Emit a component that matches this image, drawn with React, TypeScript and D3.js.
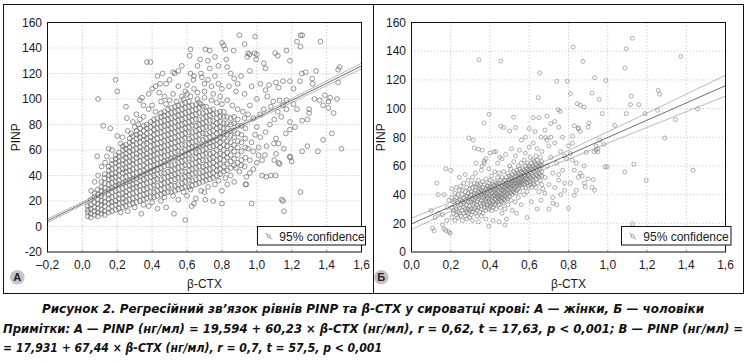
import React from "react";
import * as d3 from "d3";

const xTicksA = [-0.2, 0, 0.2, 0.4, 0.6, 0.8, 1.0, 1.2, 1.4, 1.6];
const yTicksA = [-20, 0, 20, 40, 60, 80, 100, 120, 140, 160];
const xTicksB = [0, 0.2, 0.4, 0.6, 0.8, 1.0, 1.2, 1.4, 1.6];
const yTicksB = [0, 20, 40, 60, 80, 100, 120, 140, 160];

// regression: [intercept, slope]
const regressionA = [17.931, 67.44];
const regressionB = [19.594, 60.23];
// 95% band: [half-width at mean, slope-uncertainty factor, mean x]
const confidenceA = [0.9, 1.8, 0.48];
const confidenceB = [2.5, 6.2, 0.5];

const legendLabel = "95% confidence";
const panelLetters = ["А", "Б"];
const xTitle = "β-CTX";
const yTitle = "PINP";
const captionLines = [
  "Рисунок 2. Регресійний зв’язок рівнів PINP та β-CTX у сироватці крові: А — жінки, Б — чоловіки",
  "Примітки: А — PINP (нг/мл) = 19,594 + 60,23 × β-CTX (нг/мл), r = 0,62, t = 17,63, p < 0,001; В — PINP (нг/мл) =",
  "= 17,931 + 67,44 × β-CTX (нг/мл), r = 0,7, t = 57,5, p < 0,001",
];

// Panel A (women): dense cloud read column by column [x, y values]
const womenDense: [number, number[]][] = [
  [0.031, [8, 11, 13, 16]],
  [0.048, [7, 10, 14, 17, 21]],
  [0.069, [9, 12, 15, 19, 23, 26]],
  [0.088, [8, 11, 14, 18, 21, 25, 29]],
  [0.109, [10, 13, 17, 20, 24, 28, 31, 35]],
  [0.128, [9, 12, 16, 19, 23, 27, 30, 34, 38, 41]],
  [0.151, [11, 14, 18, 22, 25, 29, 33, 37, 40, 44, 47]],
  [0.169, [12, 16, 19, 23, 27, 30, 34, 38, 41, 45, 49, 52]],
  [0.191, [13, 17, 20, 24, 28, 32, 35, 39, 42, 46, 50, 53, 56]],
  [0.209, [14, 18, 22, 25, 29, 33, 36, 40, 44, 48, 51, 55, 58]],
  [0.232, [15, 19, 22, 26, 30, 34, 38, 42, 45, 49, 52, 56, 60, 63]],
  [0.249, [16, 20, 24, 27, 31, 35, 39, 43, 46, 50, 54, 57, 61, 64]],
  [0.271, [17, 21, 25, 29, 32, 36, 40, 44, 47, 51, 55, 59, 62, 66, 69]],
  [0.289, [18, 22, 26, 30, 33, 37, 41, 45, 49, 52, 56, 60, 64, 67, 71]],
  [0.311, [19, 23, 27, 31, 34, 38, 42, 46, 50, 54, 57, 61, 65, 69, 72, 75]],
  [0.33, [20, 24, 28, 32, 36, 39, 43, 47, 51, 55, 59, 62, 66, 70, 73, 77]],
  [0.352, [21, 25, 29, 33, 37, 41, 44, 48, 52, 56, 60, 64, 68, 71, 75, 79]],
  [0.369, [22, 26, 30, 34, 38, 42, 46, 50, 54, 57, 61, 65, 69, 73, 77, 80]],
  [0.391, [23, 27, 31, 35, 39, 43, 47, 51, 55, 59, 63, 67, 70, 74, 78, 82]],
  [0.41, [23, 27, 32, 36, 40, 44, 48, 52, 56, 60, 64, 68, 72, 76, 80, 84]],
  [0.429, [24, 28, 32, 37, 41, 45, 49, 53, 57, 61, 65, 69, 73, 77, 81, 85]],
  [0.451, [25, 29, 33, 37, 42, 46, 50, 54, 58, 62, 66, 70, 74, 78, 82, 86, 89]],
  [0.469, [26, 30, 34, 38, 42, 47, 51, 55, 59, 63, 67, 71, 75, 79, 83, 87, 90]],
  [0.491, [27, 31, 35, 39, 43, 48, 52, 56, 60, 64, 68, 72, 76, 80, 84, 88, 92]],
  [0.509, [27, 32, 36, 40, 44, 48, 53, 57, 61, 65, 69, 73, 77, 81, 85, 89, 93]],
  [0.531, [28, 32, 37, 41, 45, 49, 54, 58, 62, 66, 70, 74, 78, 82, 86, 90, 94]],
  [0.549, [29, 33, 38, 42, 46, 50, 54, 59, 63, 67, 71, 75, 79, 83, 87, 91, 95]],
  [0.571, [30, 34, 38, 43, 47, 51, 55, 59, 64, 68, 72, 76, 80, 84, 88, 92, 96]],
  [0.589, [31, 35, 39, 43, 48, 52, 56, 60, 64, 69, 73, 77, 81, 85, 89, 93, 97]],
  [0.611, [31, 36, 40, 44, 48, 53, 57, 61, 65, 69, 74, 78, 82, 86, 90, 94, 98]],
  [0.629, [32, 36, 41, 45, 49, 53, 58, 62, 66, 70, 74, 79, 83, 87, 91, 95]],
  [0.651, [33, 37, 42, 46, 50, 54, 58, 63, 67, 71, 75, 79, 84, 88, 92, 96]],
  [0.669, [34, 38, 42, 47, 51, 55, 59, 63, 68, 72, 76, 80, 84, 89, 93, 97]],
  [0.691, [35, 39, 43, 47, 52, 56, 60, 64, 68, 73, 77, 81, 85, 89, 94]],
  [0.709, [36, 40, 44, 48, 52, 57, 61, 65, 69, 73, 78, 82, 86, 90, 94]],
  [0.731, [37, 41, 45, 49, 53, 57, 62, 66, 70, 74, 78, 83, 87, 91]],
  [0.749, [38, 42, 46, 50, 54, 58, 63, 67, 71, 75, 79, 83, 88, 92]],
  [0.771, [40, 44, 48, 52, 56, 60, 64, 68, 73, 77, 81, 85, 89]],
  [0.789, [41, 45, 49, 53, 57, 62, 66, 70, 74, 78, 82, 86, 90]],
  [0.811, [43, 47, 52, 56, 60, 64, 69, 73, 77, 81, 86, 90]],
  [0.829, [44, 49, 54, 58, 63, 67, 72, 77, 81, 86]],
  [0.851, [46, 51, 56, 61, 66, 71, 75, 80, 85]],
  [0.869, [48, 53, 59, 64, 70, 75, 81, 86]],
  [0.891, [50, 56, 62, 67, 73, 79, 84]],
  [0.912, [52, 59, 66, 72, 79]],
  [0.934, [54, 62, 69, 77]],
];

// Panel A: fringe and outlying points [x, y]
const womenScatter: [number, number][] = [
  [0.09, 100], [0.19, 115], [0.2, 106], [0.25, 94], [0.255, 85], [0.2, 71], [0.16, 77], [0.12, 79],
  [0.085, 55], [0.15, 61], [0.11, 47], [0.13, 50], [0.07, 35], [0.17, 60], [0.23, 70], [0.28, 73],
  [0.3, 78], [0.22, 65], [0.05, 28], [0.09, 40], [0.14, 55], [0.26, 75], [0.29, 82], [0.32, 80],
  [0.37, 129], [0.39, 129], [0.46, 120], [0.52, 121], [0.57, 126], [0.615, 134], [0.62, 139],
  [0.705, 139], [0.73, 138], [0.675, 131], [0.8, 144], [0.81, 142], [0.82, 139], [0.9, 150],
  [0.99, 149], [0.93, 143], [0.95, 136], [1.0, 135], [0.945, 133], [1.105, 136], [1.12, 134],
  [1.17, 138], [1.19, 130], [1.25, 150], [1.26, 150], [1.23, 145], [1.25, 141], [1.365, 145],
  [1.475, 125], [1.466, 123], [0.62, 120], [0.636, 115], [0.68, 120], [0.685, 117], [0.53, 120],
  [0.55, 122], [0.445, 112], [0.48, 112], [0.38, 104], [0.4, 108], [0.42, 110], [0.44, 105],
  [0.342, 101], [0.38, 92], [0.57, 102], [0.59, 106], [0.6, 104], [0.64, 108], [0.66, 105],
  [0.7, 112], [0.72, 115], [0.74, 110], [0.76, 118], [0.78, 112], [0.825, 131], [0.867, 138],
  [0.83, 125], [0.85, 120], [0.87, 116], [0.89, 112], [0.91, 118], [0.96, 122], [0.958, 135],
  [0.987, 136], [0.996, 131], [1.05, 124], [1.04, 128], [1.02, 112], [0.97, 110], [0.93, 104],
  [0.88, 106], [0.84, 110], [0.8, 108], [0.31, 88], [0.33, 84], [0.35, 95], [0.45, 98],
  [0.47, 102], [0.5, 99], [0.52, 104], [0.55, 110], [0.5, 115], [0.43, 118], [0.35, 86],
  [0.33, 99], [0.4, 95], [0.42, 90], [0.48, 96], [0.54, 98], [0.58, 100], [0.62, 102],
  [0.66, 100], [0.7, 101], [0.74, 99], [0.77, 97], [0.8, 96], [0.83, 99], [0.86, 95],
  [0.89, 92], [0.92, 90], [0.95, 88], [0.7, 106], [0.75, 104], [0.79, 102], [0.68, 96],
  [0.6, 111], [0.64, 118], [0.73, 124], [0.78, 126], [0.66, 126], [0.72, 130], [0.76, 133],
  [1.485, 61], [1.38, 68], [1.43, 73], [1.35, 59], [1.26, 59], [1.29, 63], [1.25, 27], [1.15, 20],
  [1.155, 12], [0.97, 18], [0.8, 18], [0.8, 28], [0.59, 5], [0.525, 10], [0.626, 16], [0.705, 21],
  [0.75, 20], [0.94, 33], [0.94, 39], [1.055, 39], [1.107, 40], [1.0, 50], [1.03, 52], [1.125, 50],
  [1.2, 51], [1.19, 55], [1.155, 61], [1.098, 65], [1.11, 69], [1.166, 73], [1.19, 76], [1.218, 78],
  [1.26, 83], [1.29, 84], [1.3, 89], [1.3, 92], [1.33, 100], [1.36, 99], [1.39, 103], [1.41, 98],
  [1.42, 101], [1.46, 100], [1.38, 95], [1.41, 93], [1.44, 89], [1.466, 113], [1.32, 112],
  [1.34, 122], [1.317, 116], [1.28, 121], [1.258, 120], [1.247, 114], [1.21, 108], [1.19, 114],
  [1.15, 114], [1.125, 109], [1.11, 113], [1.07, 111], [1.05, 107], [1.094, 98], [1.13, 99],
  [1.17, 99], [1.21, 96], [1.17, 92], [1.23, 92], [1.14, 86], [1.19, 82], [1.1, 84], [1.075, 80],
  [1.05, 74], [1.125, 65], [1.11, 57], [1.056, 63], [1.01, 62], [1.046, 56], [0.98, 59], [1.1, 52],
  [1.13, 49], [1.19, 54], [1.03, 40], [1.08, 40], [0.935, 33], [1.143, 21], [1.02, 70], [1.0, 78],
  [0.98, 85], [1.02, 88], [1.04, 92], [0.96, 95], [1.0, 100], [1.06, 102], [1.08, 94], [1.12, 90],
  [1.15, 95], [0.97, 66], [0.99, 72], [0.96, 52], [0.98, 45], [1.01, 56], [0.95, 61], [0.93, 85],
  [0.338, 10], [0.38, 16], [0.43, 14], [0.4, 19], [0.45, 20], [0.48, 15], [0.55, 21], [0.6, 24],
  [0.64, 18], [0.65, 22], [0.68, 28], [0.72, 31], [0.78, 36], [0.85, 40], [0.9, 43], [0.88, 46],
  [0.82, 38], [0.3, 15], [0.26, 12], [0.52, 24], [0.58, 27], [0.62, 29], [0.7, 27], [0.76, 33],
  [0.83, 33], [0.87, 35], [0.91, 48], [0.93, 47], [0.96, 42], [0.47, 23], [0.35, 17], [0.22, 11],
];

// Panel B (men): main cluster read column by column [x, y values]
const menCluster: [number, number[]][] = [
  [0.205, [24, 31, 38, 44]], [0.214, [27, 35, 29]], [0.221, [22, 33, 41, 36]],
  [0.229, [30, 26, 45, 38]], [0.236, [34, 28, 40, 24]], [0.244, [31, 37, 43, 27, 52]],
  [0.251, [25, 33, 36, 46]], [0.259, [29, 40, 35, 22, 43]], [0.266, [31, 38, 27, 48, 34]],
  [0.274, [36, 42, 25, 30, 54]], [0.281, [28, 33, 39, 45, 23]], [0.289, [35, 41, 30, 27, 50, 37]],
  [0.296, [32, 44, 38, 24, 29]], [0.304, [40, 35, 47, 30, 42, 26]], [0.311, [37, 33, 45, 28, 52, 22]],
  [0.319, [41, 36, 30, 48, 34, 39]], [0.326, [45, 38, 31, 27, 43, 55]], [0.334, [35, 40, 47, 29, 33, 25]],
  [0.341, [42, 37, 31, 46, 39, 50, 21]], [0.349, [34, 44, 38, 28, 41, 47]], [0.356, [40, 36, 43, 30, 32, 57, 25]],
  [0.364, [38, 45, 34, 41, 27, 49]], [0.371, [36, 42, 31, 47, 39, 33, 62]], [0.379, [44, 37, 40, 29, 35, 51, 23]],
  [0.386, [41, 33, 46, 38, 43, 31]], [0.394, [35, 48, 40, 37, 30, 44, 58, 18]], [0.401, [43, 39, 34, 46, 32, 50]],
  [0.409, [38, 45, 41, 36, 53, 29, 33]], [0.416, [42, 35, 47, 39, 31, 44, 22]], [0.424, [40, 46, 33, 37, 43, 56, 49]],
  [0.431, [36, 44, 39, 48, 34, 41, 30]], [0.439, [43, 38, 52, 35, 46, 40, 62]], [0.446, [39, 45, 33, 48, 37, 42, 55, 21]],
  [0.454, [44, 36, 41, 50, 38, 47, 31]], [0.461, [40, 46, 35, 43, 52, 38, 65, 27]], [0.469, [45, 41, 48, 37, 43, 34, 56]],
  [0.476, [42, 47, 39, 50, 36, 45, 30, 19]], [0.484, [46, 40, 44, 52, 38, 48, 23]], [0.491, [43, 49, 41, 46, 37, 55, 33]],
  [0.499, [47, 42, 50, 39, 45, 53, 60]], [0.506, [44, 48, 41, 52, 46, 36, 58]], [0.514, [49, 43, 47, 54, 40, 51, 29]],
  [0.521, [46, 50, 44, 56, 42, 48, 63]], [0.529, [48, 52, 45, 50, 41, 55, 35]], [0.536, [50, 46, 53, 43, 48, 57, 27]],
  [0.544, [47, 52, 49, 55, 44, 60, 38]], [0.551, [51, 48, 54, 46, 58, 42]], [0.559, [49, 53, 47, 56, 51, 62, 33]],
  [0.566, [52, 48, 55, 45, 58, 50]], [0.574, [50, 54, 47, 57, 53, 64, 40]], [0.581, [53, 49, 56, 51, 45, 60]],
  [0.589, [51, 55, 48, 58, 62, 42, 24]], [0.596, [54, 50, 57, 46, 60, 53]], [0.604, [52, 56, 49, 59, 47, 66]],
  [0.611, [55, 51, 58, 62, 45, 35]], [0.619, [53, 57, 50, 60, 64, 48]], [0.626, [56, 52, 59, 47, 63]],
  [0.634, [54, 58, 51, 61, 45, 67]], [0.641, [57, 53, 60, 48, 64]], [0.649, [55, 59, 52, 62, 42]],
  [0.656, [58, 54, 61, 66, 50]], [0.664, [56, 60, 53, 63, 47, 70]],
];

// Panel B: remaining points [x, y]
const menScatter: [number, number][] = [
  [0.129, 48], [0.1, 29], [0.107, 16.5], [0.115, 14.8], [0.136, 40], [0.166, 40], [0.175, 58],
  [0.2, 57], [0.158, 19], [0.166, 16], [0.175, 15], [0.19, 14], [0.197, 13], [0.137, 27],
  [0.158, 26], [0.183, 31], [0.12, 24], [0.19, 36], [0.18, 22],
  [0.344, 134], [0.455, 133], [0.37, 90], [0.395, 96], [0.293, 79.5], [0.314, 78], [0.32, 72.6],
  [0.341, 71.7], [0.36, 71], [0.455, 87.7], [0.47, 86.7], [0.5, 84.4], [0.52, 94], [0.53, 86.7],
  [0.37, 63.5], [0.42, 69.8], [0.4, 69], [0.38, 65], [0.36, 60], [0.33, 62], [0.45, 66],
  [0.43, 70], [0.48, 68], [0.51, 72], [0.53, 67], [0.55, 71], [0.58, 69], [0.6, 73], [0.62, 76],
  [0.64, 72], [0.66, 80], [0.653, 124.8], [0.74, 119], [0.794, 119], [0.824, 142.8], [0.874, 132.9],
  [0.646, 107.6], [0.65, 93.7], [0.62, 93.7], [0.69, 94.6], [0.684, 79.8], [0.71, 89.5],
  [0.748, 99.2], [0.757, 98], [0.81, 110.4], [0.845, 103.4], [0.86, 102.3], [0.88, 101],
  [0.85, 86.5], [0.83, 88], [0.904, 90], [0.92, 110.8], [0.933, 121.5], [0.99, 119.6],
  [0.957, 106.4], [0.972, 96.5], [1.035, 88.3], [1.088, 128.2], [1.094, 141.7], [1.125, 149],
  [1.12, 108.7], [1.116, 102.7], [1.158, 102.7], [1.094, 96.5], [1.19, 96.5], [1.257, 112.7],
  [1.264, 110], [1.254, 98.8], [1.345, 92.3], [1.372, 136.3], [1.457, 99.7], [1.435, 57],
  [1.29, 79.5], [1.133, 61.2], [1.196, 50], [1.087, 55.9], [0.997, 59.4], [0.986, 59.4],
  [0.93, 70], [0.95, 69.8], [0.933, 43.1], [0.926, 50.5], [0.885, 45.4], [0.88, 48], [0.87, 53],
  [0.83, 39.6], [0.8, 30.4], [0.86, 55], [1.126, 19.5], [0.82, 64], [0.84, 62], [0.83, 57],
  [0.85, 52], [0.81, 48], [0.84, 43], [0.88, 60], [0.9, 51], [0.92, 45], [0.94, 74], [0.94, 71],
  [0.95, 72], [0.89, 69.5], [0.81, 68.6], [0.82, 80.8], [0.85, 86], [0.86, 84], [0.9, 87],
  [0.98, 75], [0.96, 78], [0.78, 67], [0.77, 80], [0.8, 74], [0.82, 76], [0.75, 87], [0.73, 91],
  [0.68, 85], [0.6, 86], [0.58, 80], [0.56, 78], [0.63, 84], [0.68, 52], [0.69, 60], [0.7, 47],
  [0.71, 66], [0.72, 55], [0.73, 45], [0.74, 62], [0.75, 50], [0.76, 70], [0.77, 57], [0.78, 43],
  [0.79, 65], [0.7, 74], [0.72, 38], [0.68, 41], [0.74, 33], [0.76, 40], [0.69, 78], [0.71, 80],
  [0.73, 76], [0.64, 30], [0.66, 36], [0.7, 30], [0.72, 34], [0.75, 54], [0.78, 48], [0.67, 44],
];

const FONT = "'Liberation Sans', Arial, Helvetica, sans-serif";

type PanelProps = {
  left: number; right: number; top: number; bottom: number;
  xTicks: number[]; yTicks: number[];
  dense: [number, number[]][]; scatter: [number, number][];
  reg: number[]; conf: number[];
  radius: number; pointStroke: string; pointWidth: number;
  yLabelX: number; yTitleX: number;
  legendX: number; legendW: number;
  letter: string; letterX: number; id: string;
};

function fmt(v: number) {
  const s = Math.abs(v).toFixed(1).replace(".", ",");
  return v < 0 ? "–" + s : s;
}

function Panel(p: PanelProps) {
  const x = d3.scaleLinear().domain([p.xTicks[0], p.xTicks[p.xTicks.length - 1]]).range([p.left, p.right]);
  const y = d3.scaleLinear().domain([p.yTicks[0], p.yTicks[p.yTicks.length - 1]]).range([p.bottom, p.top]);
  const pts: [number, number][] = [];
  p.dense.forEach(([cx, ys]) => ys.forEach((v) => pts.push([cx, v])));
  p.scatter.forEach((d) => pts.push(d));
  const [a, b] = p.reg;
  const [h0, hs, xm] = p.conf;
  const xs = d3.range(p.xTicks[0], p.xTicks[p.xTicks.length - 1] + 0.001, 0.02);
  const fit = (t: number) => a + b * t;
  const half = (t: number) => Math.sqrt(h0 * h0 + hs * hs * (t - xm) * (t - xm));
  const line = d3.line<number[]>().x((d) => x(d[0])).y((d) => y(d[1]));
  const mid = line(xs.map((t) => [t, fit(t)]));
  const up = line(xs.map((t) => [t, fit(t) + half(t)]));
  const lo = line(xs.map((t) => [t, fit(t) - half(t)]));
  const cy = (p.top + p.bottom) / 2;
  const ly = 226.5;
  return (
    <g fontFamily={FONT}>
      <defs>
        <clipPath id={p.id}>
          <rect x={p.left} y={p.top} width={p.right - p.left} height={p.bottom - p.top} />
        </clipPath>
      </defs>
      {p.xTicks.slice(1, -1).map((t) => (
        <line key={"gx" + t} x1={x(t)} x2={x(t)} y1={p.top} y2={p.bottom} stroke="#b5b5b5" strokeWidth={0.7} strokeDasharray="1.2,2" />
      ))}
      {p.yTicks.slice(1, -1).map((t) => (
        <line key={"gy" + t} x1={p.left} x2={p.right} y1={y(t)} y2={y(t)} stroke="#b5b5b5" strokeWidth={0.7} strokeDasharray="1.2,2" />
      ))}
      {p.xTicks.slice(1, -1).map((t) => (
        <line key={"tx" + t} x1={x(t)} x2={x(t)} y1={p.bottom} y2={p.bottom - 2.5} stroke="#888" strokeWidth={0.7} />
      ))}
      <g clipPath={`url(#${p.id})`}>
        {pts.map((d, i) => (
          <circle key={i} cx={x(d[0])} cy={y(d[1])} r={p.radius} fill="none" stroke={p.pointStroke} strokeWidth={p.pointWidth} />
        ))}
        <path d={up || ""} fill="none" stroke="#9a9a9a" strokeWidth={0.7} />
        <path d={lo || ""} fill="none" stroke="#9a9a9a" strokeWidth={0.7} />
        <path d={mid || ""} fill="none" stroke="#444" strokeWidth={0.8} />
      </g>
      <rect x={p.left} y={p.top} width={p.right - p.left} height={p.bottom - p.top} fill="none" stroke="#111" strokeWidth={1} />
      {p.yTicks.map((t) => (
        <text key={"ly" + t} x={p.yLabelX} y={y(t) + 4.3} fontSize={12} textAnchor="end" fill="#1a1a1a">{t}</text>
      ))}
      {p.xTicks.map((t) => (
        <text key={"lx" + t} x={x(t)} y={268.5} fontSize={12} textAnchor="middle" fill="#1a1a1a">{fmt(t)}</text>
      ))}
      <text x={(p.left + p.right) / 2} y={287.5} fontSize={12} textAnchor="middle" fill="#1a1a1a">{xTitle}</text>
      <text transform={`translate(${p.yTitleX},${cy}) rotate(-90)`} fontSize={12} textAnchor="middle" fill="#1a1a1a">{yTitle}</text>
      <rect x={p.legendX} y={ly} width={p.legendW} height={18.5} fill="#fff" stroke="#111" strokeWidth={1} />
      <line x1={p.legendX + 8} y1={ly + 6.5} x2={p.legendX + 14.5} y2={ly + 13} stroke="#777" strokeWidth={0.9} />
      <circle cx={p.legendX + 11.2} cy={ly + 9.7} r={1.5} fill="#fff" stroke="#777" strokeWidth={0.7} />
      <text x={p.legendX + 21.8} y={ly + 14} fontSize={12} fill="#1a1a1a">{legendLabel}</text>
      <circle cx={p.letterX} cy={277.3} r={7.3} fill="#c4c4c4" />
      <text x={p.letterX} y={281.3} fontSize={11} fontWeight="bold" textAnchor="middle" fill="#222">{p.letter}</text>
    </g>
  );
}

export default function App() {
  const capFont = "'Liberation Sans Narrow', 'DejaVu Sans Condensed', 'Arial Narrow', sans-serif";
  return (
    <div style={{ position: "absolute", left: 0, top: 0 }}>
      <svg width={748} height={363} viewBox="0 0 748 363" style={{ display: "block", background: "#fff" }}>
        <rect x={0} y={0} width={748} height={363} fill="#fff" />
        <rect x={3.5} y={4.5} width={370} height={289} fill="none" stroke="#111" strokeWidth={1} />
        <rect x={373.5} y={4.5} width={370} height={289} fill="none" stroke="#111" strokeWidth={1} />
        <Panel
          id="clipA" left={47.5} right={361.5} top={22.5} bottom={252}
          xTicks={xTicksA} yTicks={yTicksA} dense={womenDense} scatter={womenScatter}
          reg={regressionA} conf={confidenceA} radius={2.4} pointStroke="#5e5e5e" pointWidth={0.65}
          yLabelX={42} yTitleX={19.5} legendX={257.5} legendW={108}
          letter={panelLetters[0]} letterX={17.3}
        />
        <Panel
          id="clipB" left={411.5} right={725.5} top={22.5} bottom={252}
          xTicks={xTicksB} yTicks={yTicksB} dense={menCluster} scatter={menScatter}
          reg={regressionB} conf={confidenceB} radius={2.0} pointStroke="#7a7a7a" pointWidth={0.6}
          yLabelX={406} yTitleX={384.5} legendX={621.5} legendW={109.5}
          letter={panelLetters[1]} letterX={381.3}
        />
        <g fontFamily={capFont} fontStyle="italic" fontWeight="bold" fontSize={13} fill="#111">
          <text x={42} y={313} textLength={662} lengthAdjust="spacingAndGlyphs">{captionLines[0]}</text>
          <text x={3} y={332.5} textLength={740} lengthAdjust="spacingAndGlyphs">{captionLines[1]}</text>
          <text x={3} y={351.5} textLength={379} lengthAdjust="spacingAndGlyphs">{captionLines[2]}</text>
        </g>
      </svg>
    </div>
  );
}
